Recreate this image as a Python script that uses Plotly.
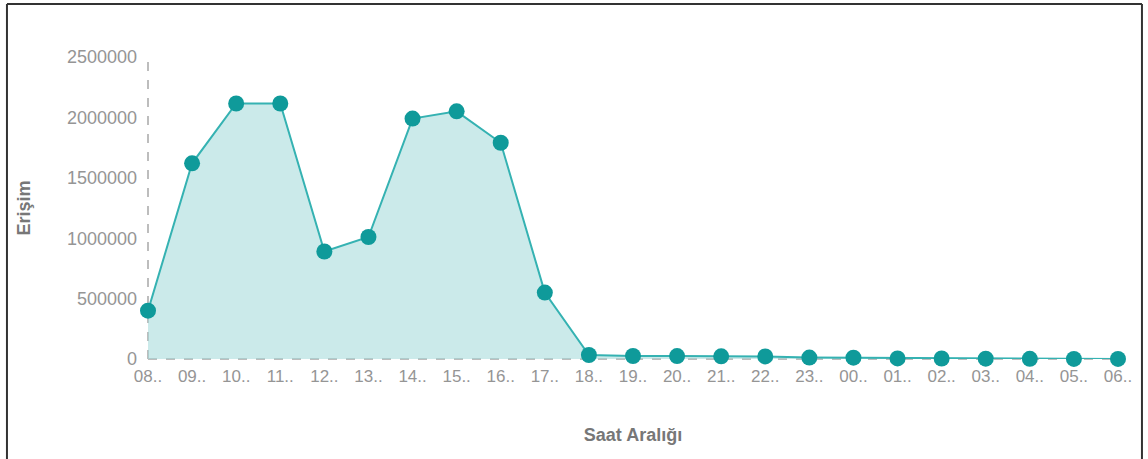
import plotly.graph_objects as go

# Hourly access counts (Erişim) per time slot
hours = ["08..", "09..", "10..", "11..", "12..", "13..", "14..", "15..", "16..",
         "17..", "18..", "19..", "20..", "21..", "22..", "23..", "00..", "01..",
         "02..", "03..", "04..", "05..", "06.."]
access = [400000, 1620000, 2115000, 2115000, 890000, 1010000, 1990000, 2050000, 1790000,
          550000, 33000, 25000, 24000, 22000, 21000, 12000, 11000, 5000,
          4000, 3000, 1500, 1000, 500]
y_ticks = [0, 500000, 1000000, 1500000, 2000000, 2500000]

TEAL = "#0f9a9a"
LINE = "#35b2b2"
FILL = "rgba(160, 216, 216, 0.55)"
GREY = "#959595"
TITLE_GREY = "#777777"
FONT = "Liberation Sans, Arial, sans-serif"

fig = go.Figure()
fig.add_trace(go.Scatter(
    x=hours, y=access, mode="lines+markers",
    line=dict(color=LINE, width=2),
    marker=dict(color=TEAL, size=16),
    fill="tozeroy", fillcolor=FILL,
    cliponaxis=False, showlegend=False,
))

# dashed axis lines
dash_line = dict(color="#bdbdbd", width=2, dash="dash")
fig.add_shape(type="line", xref="paper", yref="paper", x0=0, x1=0, y0=0, y1=1.0,
              line=dash_line, layer="below")
fig.add_shape(type="line", xref="paper", yref="paper", x0=0, x1=1, y0=0, y1=0,
              line=dash_line, layer="below")

# outer frame
frame = dict(color="#333333", width=2)
x_left, x_right, y_top = -0.1454, 1.0247, 1.1755
fig.add_shape(type="line", xref="paper", yref="paper", x0=x_left, x1=x_left, y0=-0.4, y1=y_top, line=frame)
fig.add_shape(type="line", xref="paper", yref="paper", x0=x_left, x1=x_right, y0=y_top, y1=y_top, line=frame)
fig.add_shape(type="line", xref="paper", yref="paper", x0=x_right, x1=x_right, y0=-0.4, y1=y_top, line=frame)

fig.update_layout(
    width=1148, height=459,
    margin=dict(l=148, r=30, t=57, b=100),
    paper_bgcolor="white", plot_bgcolor="white",
    font=dict(family=FONT, color=GREY),
    xaxis=dict(
        type="category", range=[0, len(hours) - 1],
        showgrid=False, zeroline=False, showline=False, ticks="",
        tickfont=dict(size=17, color=GREY), ticklabelstandoff=5,
        title=dict(text="<b>Saat Aralığı</b>", font=dict(size=18, color=TITLE_GREY), standoff=43),
        automargin=False,
    ),
    yaxis=dict(
        range=[0, 2500000], tickvals=y_ticks, ticktext=[str(v) for v in y_ticks],
        showgrid=False, zeroline=False, showline=False, ticks="",
        tickfont=dict(size=18, color=GREY), ticklabelstandoff=10,
        title=dict(text="<b>Erişim</b>", font=dict(size=18, color=TITLE_GREY), standoff=31),
        automargin=False,
    ),
)

fig.write_html("out.html")
